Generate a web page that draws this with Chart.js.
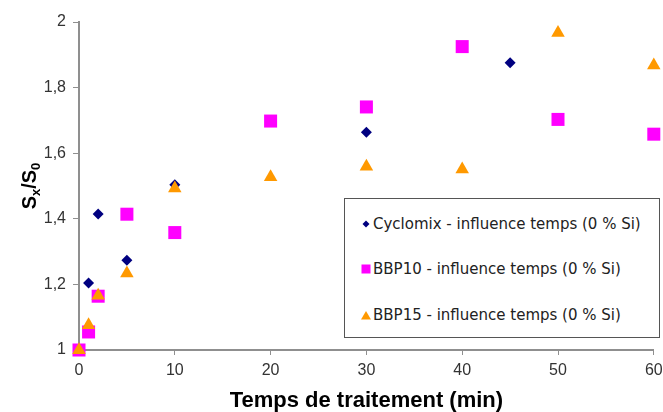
<!DOCTYPE html>
<html>
<head>
<meta charset="utf-8">
<script src="https://cdn.jsdelivr.net/npm/chart.js@4.4.0/dist/chart.umd.min.js"></script>
<style>
html, body { margin: 0; padding: 0; background: #fff; }
#wrap { position: relative; width: 663px; height: 412px; }
#legend {
    position: absolute; left: 344px; top: 198px; width: 316px; height: 140px;
    box-sizing: border-box; border: 1px solid #555; background: #fff;
    font-family: 'DejaVu Sans', sans-serif; font-size: 15px; color: #222;
}
#legend .row { position: absolute; left: 16px; height: 20px; line-height: 20px; white-space: nowrap; }
#legend svg { vertical-align: middle; margin-right: 2px; position: relative; top: -1px; }
</style>
</head>
<body>
<div id="wrap">
    <canvas id="myChart" width="663" height="412"></canvas>
    <div id="legend"></div>
</div>
<script>
// series names
const seriesNames = [
    'Cyclomix - influence temps (0 % Si)',
    'BBP10 - influence temps (0 % Si)',
    'BBP15 - influence temps (0 % Si)',
];

// treatment times (min)
const timeCyclomix = [0, 1, 2, 5, 10, 30, 45];
const timeBBP10 = [0, 1, 2, 5, 10, 20, 30, 40, 50, 60];
const timeBBP15 = [0, 1, 2, 5, 10, 20, 30, 40, 50, 60];

// Sx/S0 values
const ratioCyclomix = [1, 1.204, 1.415, 1.274, 1.504, 1.664, 1.876];
const ratioBBP10 = [1, 1.055, 1.164, 1.414, 1.358, 1.698, 1.741, 1.925, 1.703, 1.658];
const ratioBBP15 = [1, 1.076, 1.166, 1.234, 1.493, 1.527, 1.559, 1.551, 1.967, 1.868];

// ticks
const xTicks = [0, 10, 20, 30, 40, 50, 60];
const yTicks = [1, 1.2, 1.4, 1.6, 1.8, 2];
const yTickLabels = ['1', '1,2', '1,4', '1,6', '1,8', '2'];

const colors = ['#000080', '#ff00ff', '#ff9900'];
const styles = ['rectRot', 'rect', 'triangle'];
const radii = [5.5, 9.2, 7.8];

function toPoints(xs, ys) {
    return xs.map((x, i) => ({ x: x, y: ys[i] }));
}

// y axis title with subscripts: Sx/S0
const yTitlePlugin = {
    id: 'yTitle',
    afterDraw(chart) {
        const ctx = chart.ctx;
        const area = chart.chartArea;
        const parts = [
            ['S', false], ['x', true], ['/', false], ['S', false], ['0', true],
        ];
        const big = 'bold 20px "Liberation Sans", Arial, sans-serif';
        const small = 'bold 13px "Liberation Sans", Arial, sans-serif';
        ctx.save();
        let total = 0;
        parts.forEach(p => { ctx.font = p[1] ? small : big; total += ctx.measureText(p[0]).width; });
        ctx.translate(29, (area.top + area.bottom) / 2);
        ctx.rotate(-Math.PI / 2);
        ctx.fillStyle = '#000';
        ctx.textBaseline = 'alphabetic';
        let x = -total / 2;
        parts.forEach(p => {
            ctx.font = p[1] ? small : big;
            ctx.fillText(p[0], x, p[1] ? 11 : 7);
            x += ctx.measureText(p[0]).width;
        });
        ctx.restore();
    }
};

const tickFont = { family: '"Liberation Sans", Arial, sans-serif', size: 16 };
const axisGrey = '#8f8f8f';

const ctx = document.getElementById('myChart').getContext('2d');
const chart = new Chart(ctx, {
    type: 'scatter',
    data: {
        datasets: [
            { data: toPoints(timeCyclomix, ratioCyclomix), order: 3 },
            { data: toPoints(timeBBP10, ratioBBP10), order: 2 },
            { data: toPoints(timeBBP15, ratioBBP15), order: 1 },
        ].map((ds, i) => Object.assign(ds, {
            label: seriesNames[i],
            pointStyle: styles[i],
            pointRadius: radii[i],
            backgroundColor: colors[i],
            borderColor: colors[i],
            borderWidth: 0,
            clip: false,
        })),
    },
    options: {
        responsive: false,
        animation: false,
        layout: { padding: { top: 22, right: 0, bottom: 0, left: 0 } },
        plugins: {
            legend: { display: false },
            tooltip: { enabled: false },
        },
        scales: {
            x: {
                type: 'linear',
                min: 0,
                max: 60,
                afterBuildTicks: (s) => { s.ticks = xTicks.map(v => ({ value: v })); },
                afterFit: (s) => { s.height = 62; s.paddingRight = 9; s.paddingLeft = 0; },
                ticks: { font: tickFont, color: '#333', padding: 6 },
                grid: { drawOnChartArea: false, tickLength: 5, color: axisGrey, lineWidth: 1 },
                border: { color: axisGrey, width: 2 },
                title: {
                    display: true,
                    text: 'Temps de traitement (min)',
                    color: '#000',
                    font: { family: '"Liberation Sans", Arial, sans-serif', size: 22, weight: 'bold', lineHeight: 1 },
                    padding: { top: 0, bottom: 0 },
                },
            },
            y: {
                type: 'linear',
                min: 1,
                max: 2,
                afterBuildTicks: (s) => { s.ticks = yTicks.map(v => ({ value: v })); },
                afterFit: (s) => { s.width = 79; },
                ticks: {
                    font: tickFont,
                    color: '#333',
                    padding: 7,
                    callback: (v, i) => yTickLabels[i],
                },
                grid: { drawOnChartArea: false, tickLength: 6, color: axisGrey, lineWidth: 1 },
                border: { color: axisGrey, width: 2 },
            },
        },
    },
    plugins: [yTitlePlugin],
});

// legend box, built from the datasets
const markerSvg = {
    rectRot: (c) => '<svg width="10" height="10"><polygon points="5,1.5 8.5,5 5,8.5 1.5,5" fill="' + c + '"/></svg>',
    rect: (c) => '<svg width="10" height="10"><rect x="0.5" y="0.5" width="9" height="9" fill="' + c + '"/></svg>',
    triangle: (c) => '<svg width="10" height="10"><polygon points="5,1 10,9.5 0,9.5" fill="' + c + '"/></svg>',
};
const legend = document.getElementById('legend');
const rowTops = [15, 60, 106];
chart.data.datasets.forEach((ds, i) => {
    const row = document.createElement('div');
    row.className = 'row';
    row.style.top = rowTops[i] + 'px';
    row.innerHTML = markerSvg[ds.pointStyle](ds.backgroundColor) + ds.label;
    legend.appendChild(row);
});
</script>
</body>
</html>
